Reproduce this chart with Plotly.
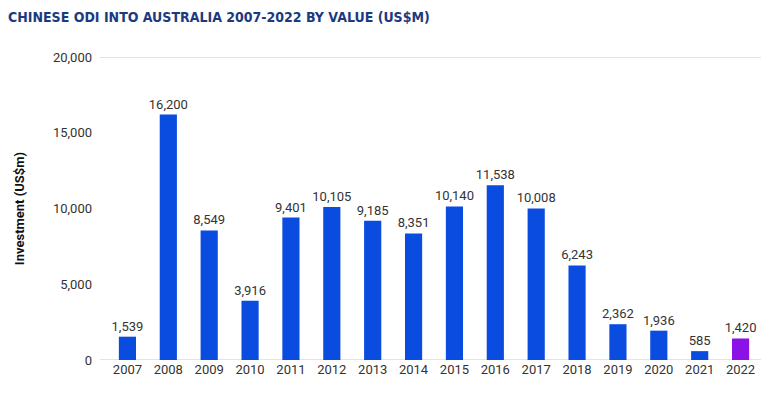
import plotly.graph_objects as go

years = [str(y) for y in range(2007, 2023)]
values = [1539, 16200, 8549, 3916, 9401, 10105, 9185, 8351, 10140, 11538, 10008, 6243, 2362, 1936, 585, 1420]
colors = ["#0A4BE0"] * 15 + ["#8A12E6"]
labels = [f"{v:,}" for v in values]

fig = go.Figure(go.Bar(
    x=years, y=values, marker=dict(color=colors, line=dict(width=0)),
    text=labels, textposition="outside", cliponaxis=False, constraintext="none",
    textfont=dict(family="Roboto", size=13, color="#333333"),
    width=0.42,
))

fig.update_layout(
    width=774, height=394,
    margin=dict(l=99, r=21, t=49, b=42, autoexpand=False),
    paper_bgcolor="white", plot_bgcolor="white",
    showlegend=False,
    title=dict(text="CHINESE ODI INTO AUSTRALIA 2007-2022 BY VALUE (US$M)",
               x=0.0, xanchor="left", y=0.99, yanchor="top",
               font=dict(family="DejaVu Sans Condensed", size=14, color="#1B3A80", weight="bold")),
    xaxis=dict(type="category", showgrid=False, showline=False,
               ticks="", tickfont=dict(family="Roboto", size=13, color="#333333")),
    yaxis=dict(range=[0, 20000], tickvals=[0, 5000, 10000, 15000, 20000],
               tickformat=",", showgrid=False, zeroline=False, showline=False,
               ticks="", ticklabelstandoff=14,
               tickfont=dict(family="Roboto", size=13, color="#333333"),
               title=dict(text="Investment (US$m)", standoff=25,
                          font=dict(family="Roboto", size=13, color="#111111", weight="bold"))),
    shapes=[dict(type="line", xref="paper", yref="y", x0=-0.011, x1=1.0, y0=y, y1=y,
                 line=dict(color="#C8C8C8", width=1), layer="below") for y in (0, 20000)],
)

fig.write_html("out.html")
